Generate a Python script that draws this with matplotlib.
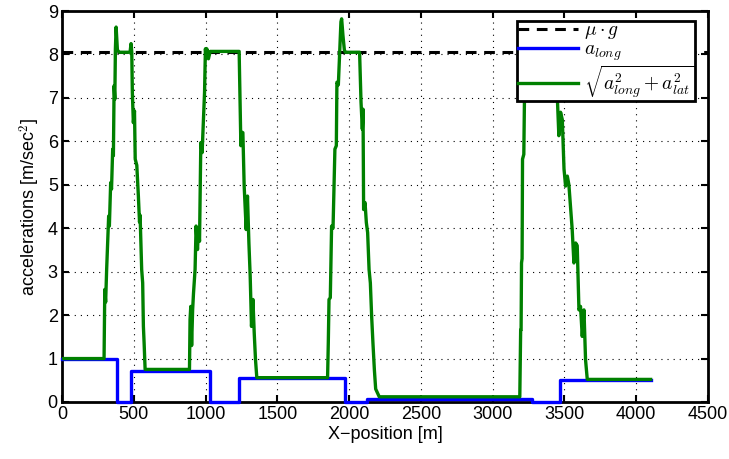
import matplotlib
matplotlib.use("Agg")
import matplotlib.pyplot as plt

plt.rcParams['font.family'] = ['Liberation Sans', 'DejaVu Sans']
plt.rcParams['mathtext.fontset'] = 'cm'

# --- data ---
mu_g = 8.05
x_range = [0, 4500]

blue_edges = [0, 381, 479, 1032, 1230, 1973, 2125, 3275, 3468, 4100]
blue_vals = [1.0, 0.0, 0.72, 0.0, 0.55, 0.0, 0.08, 0.0, 0.5, 0.5]

green_x = [0, 293, 298, 304, 311, 325, 330, 339, 345, 353, 358, 363, 368, 372, 377,
           386, 400, 474, 481, 486, 490, 497, 505, 510, 521, 532, 540, 544, 555,
           562, 567, 572, 579, 888, 892, 897, 903, 910, 916, 927, 934, 944, 951,
           958, 963, 967, 976, 986, 993, 999, 1004, 1009, 1020, 1032, 1234, 1241,
           1246, 1252, 1260, 1269, 1283, 1292, 1302, 1311, 1320, 1330, 1339, 1348,
           1357, 1850, 1855, 1860, 1869, 1878, 1888, 1901, 1911, 1915, 1925, 1934,
           1943, 1948, 1957, 1967, 1975, 2073, 2083, 2092, 2097, 2101, 2111, 2120,
           2129, 2139, 2148, 2157, 2166, 2176, 2185, 2210, 3189, 3195, 3198, 3201,
           3205, 3208, 3217, 3222, 3228, 3235, 3245, 3440, 3450, 3461, 3473, 3485,
           3497, 3508, 3520, 3531, 3554, 3566, 3578, 3589, 3601, 3612, 3624, 3636,
           3647, 3659, 4100]
green_y = [1.0, 1.0, 2.59, 2.3, 3.05, 4.28, 4.05, 5.05, 4.9, 5.82, 5.67, 7.28, 6.97, 8.13, 8.63,
           8.1, 8.05, 8.05, 8.25, 8.05, 7.13, 6.43, 6.7, 5.59, 5.45, 4.74, 4.14, 4.3, 3.05,
           2.74, 1.74, 1.36, 0.75, 0.75, 1.9, 2.2, 1.3, 2.12, 2.5, 3.05, 4.05, 3.51, 4.0,
           3.7, 5.05, 5.97, 5.74, 6.59, 7.13, 8.13, 7.95, 8.13, 7.9, 8.07, 8.07, 6.74,
           5.9, 6.21, 6.2, 4.97, 3.97, 4.74, 3.66, 2.89, 1.74, 2.36, 1.59, 0.97,
           0.56, 0.56, 1.36, 2.36, 2.4, 4.05, 4.0, 5.82, 5.9, 7.36, 7.3, 8.05,
           8.75, 8.82, 8.44, 8.1, 8.05, 8.05, 6.9, 6.28, 6.74, 4.43, 4.59, 4.13,
           3.9, 3.05, 2.74, 1.97, 1.36, 0.74, 0.3, 0.12, 0.12, 1.66, 1.66, 3.2,
           3.3, 5.59, 5.7, 7.13, 8.5, 8.6, 8.05, 8.05, 7.05, 6.13, 6.67, 6.5,
           5.36, 4.97, 5.2, 5.0, 3.97, 3.2, 3.66, 3.6, 2.12, 2.2, 1.51, 2.12,
           0.97, 0.52, 0.52]

labels = [r'$\mu \cdot g$', r'$a_{long}$', r'$\sqrt{a_{long}^2 + a_{lat}^2}$']

fig = plt.figure(figsize=(7.29, 4.59), dpi=100)
ax = fig.add_axes([62/729, 57/459, 646/729, 391/459])

ax.plot(x_range, [mu_g, mu_g], color='black', lw=2.2, dashes=(3.5, 2.5),
        label=labels[0], zorder=3)
ax.step(blue_edges, blue_vals, where='post', color='#0000ff', lw=2.4,
        label=labels[1], zorder=3, clip_on=False)
ax.plot(green_x, green_y, color='#008000', lw=2.4, label=labels[2], zorder=4)

ax.set_xlim(0, 4500)
ax.set_ylim(0, 9)
ax.set_xticks(range(0, 4501, 500))
ax.set_yticks(range(0, 10))
ax.grid(True, color='black', linestyle=(0, (1, 4.5)), lw=0.8)
ax.tick_params(direction='in', length=5, width=1.5, top=True, right=True,
               labelsize=13, pad=3)
for s in ax.spines.values():
    s.set_linewidth(2)
ax.set_xlabel('X\u2212position [m]', fontsize=13, labelpad=2)
ax.set_ylabel(r'accelerations [m/sec$^2$]', fontsize=13, labelpad=4)

leg = ax.legend(loc='upper right', bbox_to_anchor=(0.98, 0.975), borderaxespad=0,
                fontsize=14, fancybox=False, framealpha=1, edgecolor='black',
                handlelength=3.1, handletextpad=0.3, labelspacing=0.0,
                borderpad=0.05)
leg.get_frame().set_linewidth(2)
leg.set_zorder(10)

fig.savefig('out.png', dpi=100)
